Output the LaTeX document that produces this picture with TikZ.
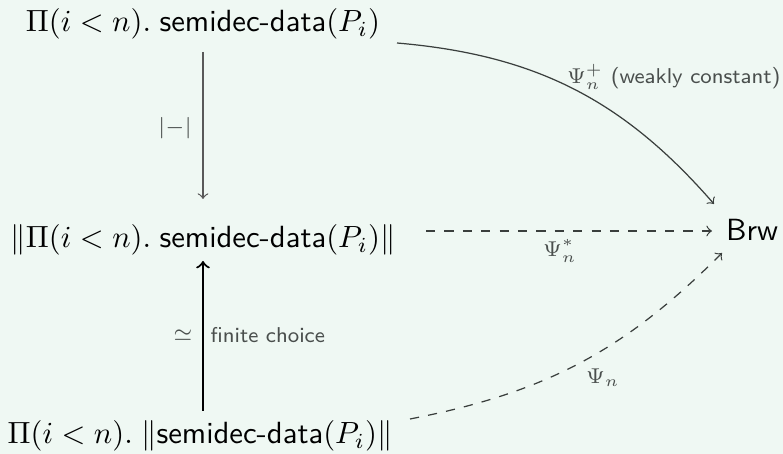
\documentclass[tikz,border=0pt]{standalone}
\usepackage{amsmath,amssymb}
\usetikzlibrary{arrows}
\definecolor{bg}{HTML}{EFF8F3}
\definecolor{ln}{HTML}{3A3F3D}
\definecolor{lbl}{HTML}{4A4F4D}
\begin{document}
\begin{tikzpicture}[x=0.3263pt,y=-0.3263pt,
  obj/.style={inner sep=0pt, font=\sffamily},
  lab/.style={inner sep=0pt, font=\sffamily\scriptsize, text=lbl},
  arr/.style={->, >=to, color=ln, line width=0.4pt}]
\fill[bg] (0,0) rectangle (783,454);
\useasboundingbox (0,0) rectangle (783,454);
\node[obj] (top) at (203,24) {$\Pi(i<n).\;\textsf{semidec-data}(P_i)$};
\node[obj] (mid) at (203,240) {$\|\Pi(i<n).\;\textsf{semidec-data}(P_i)\|$};
\node[obj] (bot) at (200,436) {$\Pi(i<n).\;\|\textsf{semidec-data}(P_i)\|$};
\node[obj] (brw) at (752,230) {Brw};
\coordinate (t1) at (203,52);
\coordinate (t2) at (203,199);
\coordinate (b1) at (203,411);
\coordinate (b2) at (203,261);
\draw[arr, color=black!65] (t1) -- (t2);
\draw[arr, color=black, line width=0.7pt] (b1) -- (b2);
\coordinate (h1) at (426,231);
\coordinate (h2) at (712,231);
\draw[arr, dashed] (h1) -- (h2);
\coordinate (c1) at (397,43);
\coordinate (c2) at (714,204);
\draw[arr] (c1) to[bend left=22] (c2);
\coordinate (d1) at (410,419);
\coordinate (d2) at (722,253);
\draw[arr, dashed] (d1) to[bend right=17] (d2);
\node[lab] (l1) at (175,128) {$|{-}|$};
\node[lab] (l2) at (183,335) {$\simeq$};
\node[lab, anchor=west] (l3) at (210,335) {finite choice};
\node[lab, anchor=east] (l4) at (781,77) {$\Psi_n^+$ (weakly constant)};
\node[lab] (l5) at (560,251) {$\Psi_n^*$};
\node[lab] (l6) at (603,378) {$\Psi_n$};
\end{tikzpicture}
\end{document}
